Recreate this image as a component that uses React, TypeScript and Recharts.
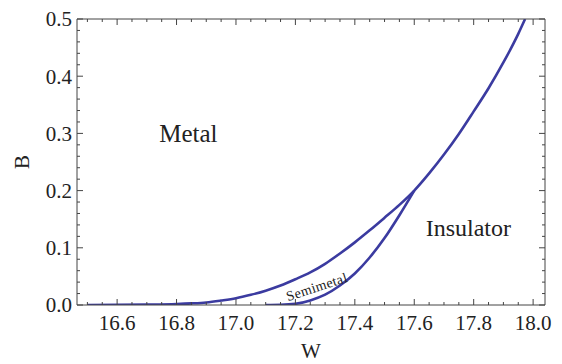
import React from "react";
import { LineChart, Line, XAxis, YAxis, ReferenceDot, Label } from "recharts";

// Diagrama de fases W x B: curva superior (Metal / Insulator) e curva inferior que
// fecha a região Semimetal, encontrando-se em W ≈ 17.6.

const UPPER_W = [16.5, 16.6, 16.7, 16.8, 16.85, 16.9, 16.95, 17.0, 17.05, 17.1, 17.15, 17.2, 17.25, 17.3, 17.35, 17.4, 17.45, 17.5, 17.55, 17.6, 17.65, 17.7, 17.75, 17.8, 17.85, 17.9, 17.95, 17.973];
const UPPER_B = [0, 0.0002, 0.0007, 0.0017, 0.0028, 0.0045, 0.0078, 0.0118, 0.0178, 0.025, 0.034, 0.045, 0.057, 0.072, 0.09, 0.1095, 0.1305, 0.1525, 0.175, 0.2, 0.23, 0.263, 0.299, 0.3385, 0.379, 0.424, 0.474, 0.5];

const LOWER_W = [17.1, 17.15, 17.2, 17.25, 17.3, 17.35, 17.4, 17.45, 17.5, 17.55, 17.6];
const LOWER_B = [0, 0.0003, 0.002, 0.008, 0.018, 0.034, 0.055, 0.083, 0.117, 0.157, 0.2];

const X_MAJOR = [16.6, 16.8, 17.0, 17.2, 17.4, 17.6, 17.8, 18.0];
const X_MINOR = [16.5, 16.55, 16.65, 16.7, 16.75, 16.85, 16.9, 16.95, 17.05, 17.1, 17.15, 17.25, 17.3, 17.35, 17.45, 17.5, 17.55, 17.65, 17.7, 17.75, 17.85, 17.9, 17.95];
const Y_MAJOR = [0, 0.1, 0.2, 0.3, 0.4, 0.5];
const Y_MINOR = [0.02, 0.04, 0.06, 0.08, 0.12, 0.14, 0.16, 0.18, 0.22, 0.24, 0.26, 0.28, 0.32, 0.34, 0.36, 0.38, 0.42, 0.44, 0.46, 0.48];

const REGIONS = [
  { name: "Metal", w: 16.84, b: 0.3, size: 25, angle: 0, spacing: 0 },
  { name: "Insulator", w: 17.782, b: 0.135, size: 24, angle: 0, spacing: 0 },
  { name: "Semimetal", w: 17.272, b: 0.032, size: 14, angle: -18, spacing: 0.4 },
];

const upper = UPPER_W.map((w, i) => ({ w, b: UPPER_B[i] }));
const lower = LOWER_W.map((w, i) => ({ w, b: LOWER_B[i] }));

const FONT = "'Liberation Serif', 'Times New Roman', serif";
const INK = "#222";
const FRAME = "#444";
const CURVE = "#3b3ba0";
const X_DOMAIN: [number, number] = [16.465, 18.04];
const Y_DOMAIN: [number, number] = [0, 0.5];
const X_TICKS = [...X_MINOR, ...X_MAJOR];
const Y_TICKS = [...Y_MINOR, ...Y_MAJOR];

const isMajor = (list: number[], v: number) => list.some((m) => Math.abs(m - v) < 1e-9);

// ticks para dentro do quadro (dir = sentido para dentro); rótulo só nos maiores
function TickX({ x, y, payload, dir, label }: any) {
  const major = isMajor(X_MAJOR, payload.value);
  return (
    <g>
      <line x1={x} x2={x} y1={y} y2={y + dir * (major ? 6 : 3)} stroke={FRAME} strokeWidth={1} />
      {label && major && (
        <text x={x} y={y + 25} textAnchor="middle" fontSize={21} fontFamily={FONT} fill={INK}>
          {payload.value.toFixed(1)}
        </text>
      )}
    </g>
  );
}

function TickY({ x, y, payload, dir, label }: any) {
  const major = isMajor(Y_MAJOR, payload.value);
  return (
    <g>
      <line x1={x} x2={x + dir * (major ? 6 : 3)} y1={y} y2={y} stroke={FRAME} strokeWidth={1} />
      {label && major && (
        <text x={x - 5} y={y} dy="0.35em" textAnchor="end" fontSize={21} fontFamily={FONT} fill={INK}>
          {payload.value.toFixed(1)}
        </text>
      )}
    </g>
  );
}

const xCommon = {
  type: "number" as const,
  domain: X_DOMAIN,
  allowDataOverflow: true,
  height: 1,
  tickSize: 0,
  tickMargin: 0,
  tickLine: false,
  interval: 0 as const,
  ticks: X_TICKS,
  dataKey: "w",
  axisLine: { stroke: FRAME },
};

const yCommon = {
  type: "number" as const,
  domain: Y_DOMAIN,
  allowDataOverflow: true,
  width: 1,
  tickSize: 0,
  tickMargin: 0,
  tickLine: false,
  interval: 0 as const,
  ticks: Y_TICKS,
  axisLine: { stroke: FRAME },
};

export default function App() {
  return (
    <div style={{ position: "absolute", left: 0, top: 0 }}>
      <LineChart width={562} height={364} margin={{ top: 18, right: 16, bottom: 58, left: 76 }}>
        <XAxis {...xCommon} xAxisId="x" tick={<TickX dir={-1} label />}>
          <Label
            content={({ viewBox }: any) => (
              <text x={viewBox.x + viewBox.width / 2} y={viewBox.y + 53} textAnchor="middle" fontSize={21} fontFamily={FONT} fill={INK}>
                W
              </text>
            )}
          />
        </XAxis>
        <XAxis {...xCommon} xAxisId="xt" orientation="top" tick={<TickX dir={1} />} />

        <YAxis {...yCommon} yAxisId="y" tick={<TickY dir={1} label />}>
          <Label
            content={({ viewBox }: any) => {
              const cx = viewBox.x - 54.5;
              const cy = viewBox.y + viewBox.height / 2;
              return (
                <text x={cx} y={cy} dy="0.35em" textAnchor="middle" fontSize={21} fontFamily={FONT} fill={INK} transform={`rotate(-90 ${cx} ${cy})`}>
                  B
                </text>
              );
            }}
          />
        </YAxis>
        <YAxis {...yCommon} yAxisId="yr" orientation="right" tick={<TickY dir={-1} />} />

        <Line data={upper} xAxisId="x" yAxisId="y" dataKey="b" type="monotone" stroke={CURVE} strokeWidth={2.6} dot={false} isAnimationActive={false} />
        <Line data={lower} xAxisId="x" yAxisId="y" dataKey="b" type="monotone" stroke={CURVE} strokeWidth={2.6} dot={false} isAnimationActive={false} />

        {REGIONS.map((r) => (
          <ReferenceDot
            key={r.name}
            xAxisId="x"
            yAxisId="y"
            x={r.w}
            y={r.b}
            r={0}
            ifOverflow="visible"
            shape={({ cx, cy }: any) => (
              <text
                x={cx}
                y={cy}
                dy="0.35em"
                textAnchor="middle"
                fontSize={r.size}
                fontFamily={FONT}
                letterSpacing={r.spacing}
                fill={INK}
                transform={r.angle ? `rotate(${r.angle} ${cx} ${cy})` : undefined}
              >
                {r.name}
              </text>
            )}
          />
        ))}
      </LineChart>
    </div>
  );
}
